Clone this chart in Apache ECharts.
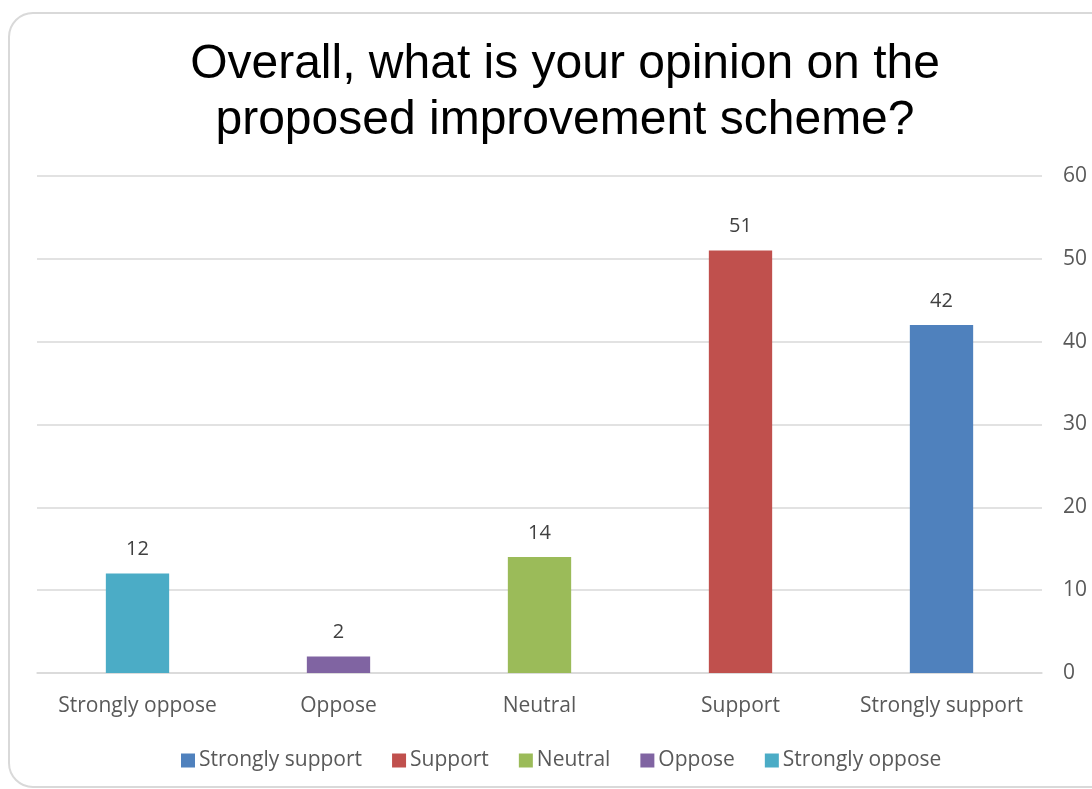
<!DOCTYPE html>
<html>
<head>
<meta charset="utf-8">
<title>Opinion on the proposed improvement scheme</title>
<script src="https://cdn.jsdelivr.net/npm/echarts@6/dist/echarts.min.js"></script>
<style>
  html, body { margin: 0; padding: 0; background: #ffffff; }
  #chart { width: 1092px; height: 789px; }
</style>
</head>
<body>
<div id="chart"></div>
<script>
// Survey responses: one bar per answer
const categories = ['Strongly oppose', 'Oppose', 'Neutral', 'Support', 'Strongly support'];
const counts = [12, 2, 14, 51, 42];
const barColors = ['#4BACC6', '#8064A2', '#9BBB59', '#C0504D', '#4F81BD'];
const legendOrder = ['Strongly support', 'Support', 'Neutral', 'Oppose', 'Strongly oppose'];
const yTicks = { min: 0, max: 60, interval: 10 };
const titleText = 'Overall, what is your opinion on the\nproposed improvement scheme?';

const textFont = '"Open Sans", "Noto Sans", sans-serif';
const textColor = '#595959';

// Each answer is its own series so the legend can list it; stacking keeps one bar per slot
const series = categories.map((name, i) => ({
  name: name,
  type: 'bar',
  stack: 'answers',
  barWidth: '31.5%',
  itemStyle: { color: barColors[i] },
  data: categories.map((c, j) => (j === i ? counts[j] : '-')),
  label: {
    show: true,
    position: 'top',
    distance: 14,
    fontFamily: textFont,
    fontSize: 20,
    color: '#404040'
  }
}));

const chart = echarts.init(document.getElementById('chart'), null, { renderer: 'canvas' });
chart.setOption({
  backgroundColor: '#ffffff',
  animation: false,
  graphic: [{
    type: 'rect',
    silent: true,
    z: -10,
    shape: { x: 9, y: 13, width: 1150, height: 774, r: 24 },
    style: { fill: 'transparent', stroke: '#d9d9d9', lineWidth: 2 }
  }],
  title: {
    text: titleText,
    left: 560,
    textAlign: 'center',
    top: 32,
    textStyle: {
      fontFamily: '"Liberation Sans", Arial, sans-serif',
      fontWeight: 'normal',
      fontSize: 48,
      lineHeight: 56,
      color: '#000000'
    }
  },
  legend: {
    data: legendOrder,
    left: 181,
    top: 750,
    padding: 0,
    itemWidth: 14,
    itemHeight: 14,
    itemGap: 30,
    icon: 'rect',
    textStyle: { fontFamily: textFont, fontSize: 21, color: textColor, padding: [0, 0, 0, -1] }
  },
  grid: { left: 37, right: 50, top: 176, bottom: 116, containLabel: false },
  xAxis: {
    type: 'category',
    data: categories,
    axisLine: { show: true, lineStyle: { color: '#d9d9d9', width: 1.5 } },
    axisTick: { show: false },
    axisLabel: { interval: 0, fontFamily: textFont, fontSize: 21, color: textColor, margin: 23 }
  },
  yAxis: {
    type: 'value',
    position: 'right',
    min: yTicks.min,
    max: yTicks.max,
    interval: yTicks.interval,
    axisLine: { show: false },
    axisTick: { show: false },
    splitLine: { lineStyle: { color: '#d9d9d9', width: 1.5 } },
    axisLabel: { fontFamily: textFont, fontSize: 21, color: textColor, margin: 21 }
  },
  series: series
});
</script>
</body>
</html>
